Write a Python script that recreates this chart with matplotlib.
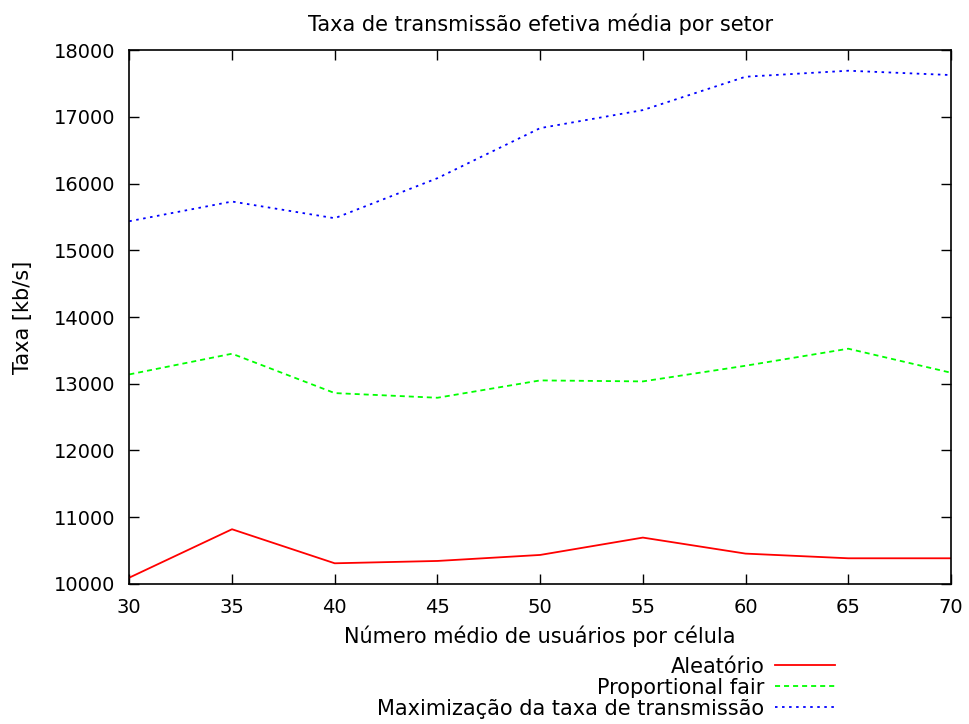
import matplotlib
matplotlib.use('Agg')
import matplotlib.pyplot as plt

#-------------------------------------------------------------
usuarios     = [30, 35, 40, 45, 50, 55, 60, 65, 70]
aleatorio    = [10095, 10820, 10310, 10345, 10435, 10695, 10455, 10385, 10385]
prop_fair    = [13140, 13450, 12860, 12790, 13050, 13035, 13270, 13525, 13165]
max_taxa     = [15435, 15730, 15480, 16080, 16830, 17100, 17600, 17690, 17625]

x_ticks = [30, 35, 40, 45, 50, 55, 60, 65, 70]
y_ticks = [10000, 11000, 12000, 13000, 14000, 15000, 16000, 17000, 18000]

plt.rcParams['font.family'] = 'DejaVu Sans'
fig = plt.figure(figsize=(9.7, 7.24), dpi=100)
ax = fig.add_axes([0.1333, 0.1934, 0.8471, 0.7375])

ax.plot(usuarios, aleatorio, color='#ff0000', lw=1.3, label='Aleatório')
ax.plot(usuarios, prop_fair, color='#00ff00', lw=1.3, dashes=(2.8, 2.2), label='Proportional fair')
ax.plot(usuarios, max_taxa, color='#0000ff', lw=1.3, dashes=(1.4, 2.5), label='Maximização da taxa de transmissão')

ax.set_xlim(30, 70)
ax.set_ylim(10000, 18000)
ax.set_xticks(x_ticks)
ax.set_yticks(y_ticks)
ax.tick_params(direction='in', length=7, width=1, top=True, right=True, labelsize=14, pad=10)
for s in ax.spines.values():
	s.set_linewidth(1.2)

ax.set_title('Taxa de transmissão efetiva média por setor', fontsize=15, pad=14)
ax.set_xlabel('Número médio de usuários por célula', fontsize=15, labelpad=6)
ax.set_ylabel('Taxa [kb/s]', fontsize=15, labelpad=15)

ax.legend(loc='upper right', bbox_to_anchor=(0.861, 0.093), bbox_transform=fig.transFigure,
	frameon=False, markerfirst=False, fontsize=15, handlelength=2.9,
	handletextpad=0.5, labelspacing=0.05, borderpad=0, borderaxespad=0)

plt.savefig('out.png', dpi=100)
